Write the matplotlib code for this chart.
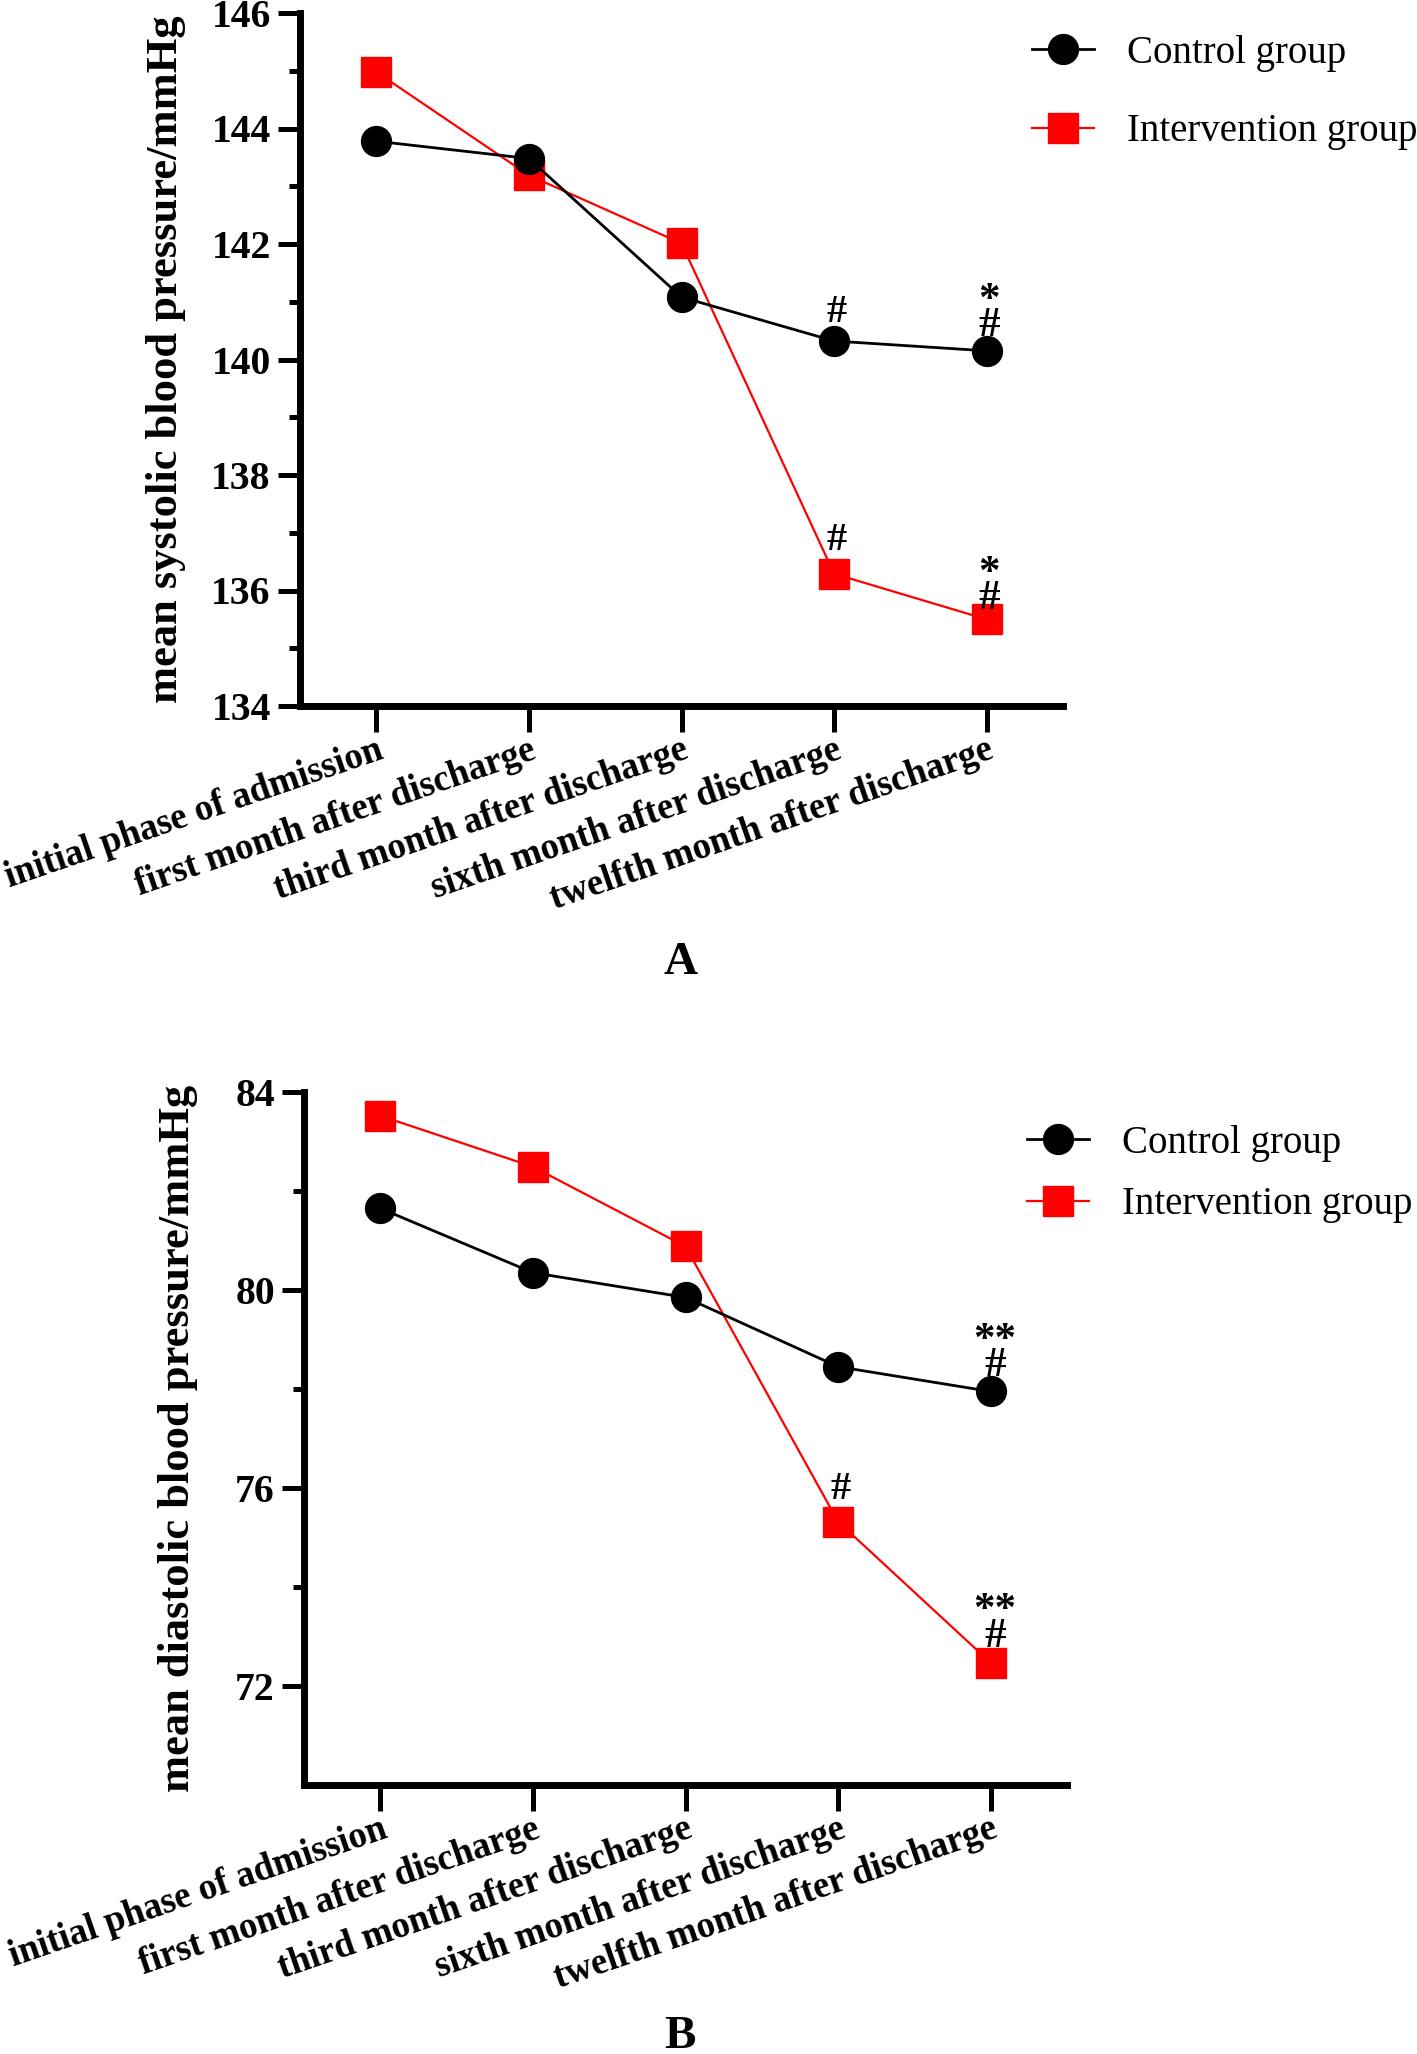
import numpy as np
import matplotlib
matplotlib.use("Agg")
import matplotlib.pyplot as plt
from matplotlib.transforms import ScaledTranslation

plt.rcParams['font.family'] = ['Liberation Serif', 'DejaVu Serif']

# data
timepoints = ['initial phase of admission', 'first month after discharge',
              'third month after discharge', 'sixth month after discharge',
              'twelfth month after discharge']
sbp_control = [143.78, 143.48, 141.08, 140.32, 140.15]
sbp_interv = [144.98, 143.19, 142.01, 136.29, 135.50]
dbp_control = [81.65, 80.35, 79.85, 78.45, 77.95]
dbp_interv = [83.52, 82.49, 80.88, 75.32, 72.47]

# significance marks: (series, index, text, offset px above point)
sbp_marks = [('c', 3, '#', 29), ('c', 4, '*\n#', 6),
             ('i', 3, '#', 33), ('i', 4, '*\n#', 1)]
dbp_marks = [('c', 4, '**\n#', 6),
             ('i', 3, '#', 32), ('i', 4, '**\n#', 7)]

W, H = 1417, 2054
RED = '#ff0000'
fig = plt.figure(figsize=(W / 100, H / 100), dpi=100)


def panel(rect, control, interv, marks, ylim, major, minor, ylabel, letter,
          letter_y, label_x, leg_anchor, leg_space):
    ax = fig.add_axes(rect)
    x = np.arange(len(timepoints))
    ax.plot(x, control, color='black', lw=2.0, marker='o', ms=21.5,
            label='Control group', zorder=3)
    ax.plot(x, interv, color=RED, lw=1.6, marker='s', ms=21.5,
            label='Intervention group', zorder=2)
    for s, i, t, off in marks:
        y = control[i] if s == 'c' else interv[i]
        dx = 4 if '**' in t else 2
        if '\n' in t:
            # stacked marks kept in one text block
            ax.annotate(t, (x[i], y), xytext=(dx, off),
                        textcoords='offset pixels', ha='center', va='bottom',
                        fontsize=31, fontweight='bold', linespacing=0.56,
                        multialignment='center')
        else:
            ax.annotate(t, (x[i], y), xytext=(dx, off),
                        textcoords='offset pixels', ha='center', va='center',
                        fontsize=29, fontweight='bold')
    ax.set_xlim(-0.5, 4.5)
    ax.set_ylim(*ylim)
    ax.set_yticks(major)
    ax.set_yticks(minor, minor=True)
    ax.set_xticks(x)
    ax.set_xticklabels(timepoints, rotation=19, ha='right', va='top',
                       rotation_mode='anchor', fontsize=26.5, fontweight='bold')
    # nudge the slanted labels up/left like the original
    shift = ScaledTranslation(-5 / 72, 9 / 72, fig.dpi_scale_trans)
    for lab in ax.get_xticklabels():
        lab.set_transform(lab.get_transform() + shift)
    for lab in ax.get_yticklabels():
        lab.set_fontweight('bold')
    ax.tick_params(axis='y', which='major', length=16, width=3.6,
                   labelsize=28.5, pad=5)
    ax.tick_params(axis='y', which='minor', length=8, width=3.6)
    ax.tick_params(axis='x', length=19, width=3.6, pad=0)
    for sp in ['top', 'right']:
        ax.spines[sp].set_visible(False)
    for sp in ['left', 'bottom']:
        ax.spines[sp].set_linewidth(5)
    ax.set_ylabel(ylabel, fontsize=32, fontweight='bold')
    ax.yaxis.set_label_coords(label_x, 0.5)
    ax.legend(loc='upper left', bbox_to_anchor=leg_anchor,
              bbox_transform=fig.transFigure, frameon=False, fontsize=28,
              handlelength=1.6, handletextpad=0.85, labelspacing=leg_space,
              borderpad=0, borderaxespad=0)
    fig.text(0.48, letter_y, letter, ha='center', va='center', fontsize=34,
             fontweight='bold')
    return ax


panel([300 / W, 1 - 706 / H, 763 / W, 693 / H], sbp_control, sbp_interv,
      sbp_marks, (134, 146), np.arange(134, 147, 2), np.arange(135, 146, 2),
      'mean systolic blood pressure/mmHg', 'A', 1 - 963 / H, -0.149,
      (1032 / W, 1 - 35 / H), 1.06)
panel([304 / W, 1 - 1785 / H, 763 / W, 693 / H], dbp_control, dbp_interv,
      dbp_marks, (70, 84), [72, 76, 80, 84], [74, 78, 82],
      'mean diastolic blood pressure/mmHg', 'B', 1 - 2037 / H, -0.139,
      (1027 / W, 1 - 1125 / H), 0.62)

fig.savefig('out.png', dpi=100)
